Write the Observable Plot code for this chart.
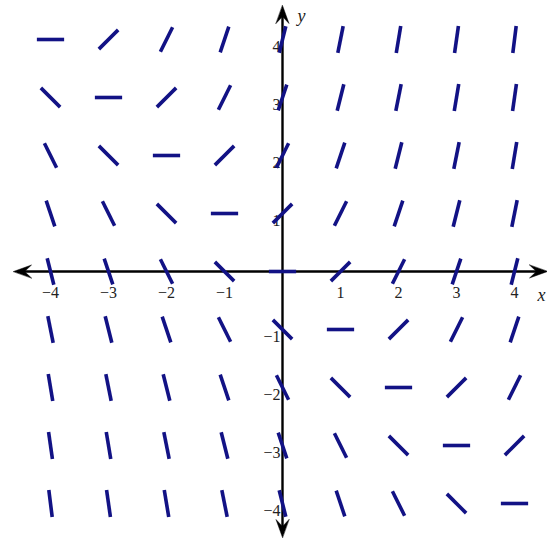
<!DOCTYPE html>
<html>
<head>
<meta charset="utf-8">
<script src="https://cdn.jsdelivr.net/npm/d3@7"></script>
<script src="https://cdn.jsdelivr.net/npm/@observablehq/plot@0.6"></script>
<style>
  html, body { margin: 0; padding: 0; background: #fff; }
  #chart svg { display: block; }
</style>
</head>
<body>
<div id="chart"></div>
<script>
// Grid positions
const xs = [-4, -3, -2, -1, 0, 1, 2, 3, 4];
const ys = [-4, -3, -2, -1, 0, 1, 2, 3, 4];
// Slopes; rows follow ys (from y = -4 up to y = 4), columns follow xs
const slopes = [
  [-8, -7, -6, -5, -4, -3, -2, -1, 0],
  [-7, -6, -5, -4, -3, -2, -1, 0, 1],
  [-6, -5, -4, -3, -2, -1, 0, 1, 2],
  [-5, -4, -3, -2, -1, 0, 1, 2, 3],
  [-4, -3, -2, -1, 0, 1, 2, 3, 4],
  [-3, -2, -1, 0, 1, 2, 3, 4, 5],
  [-2, -1, 0, 1, 2, 3, 4, 5, 6],
  [-1, 0, 1, 2, 3, 4, 5, 6, 7],
  [0, 1, 2, 3, 4, 5, 6, 7, 8]
];
const xTicks = [-4, -3, -2, -1, 1, 2, 3, 4];
const yTicks = [-4, -3, -2, -1, 1, 2, 3, 4];
const tickLabel = v => (v < 0 ? "\u2212" + Math.abs(v) : String(v));

// Build the segment table
const half = 0.235; // half-length of each segment in data units
const segs = [];
ys.forEach((y, i) => xs.forEach((x, j) => {
  const m = slopes[i][j];
  const n = Math.sqrt(1 + m * m);
  const dx = half / n, dy = half * m / n;
  segs.push({x1: x - dx, y1: y - dy, x2: x + dx, y2: y + dy});
}));

const W = 547, H = 540;
const ox = 282, oy = 271, unit = 58;
const xDomain = [-ox / unit, (W - ox) / unit];
const yDomain = [-(H - oy) / unit, oy / unit];
const xMin = (13 - ox) / unit, xMax = (547 - ox) / unit;
const yMax = (oy - 5) / unit, yMin = -(537 - oy) / unit;

const head = {
  draw(ctx, l, r) {
    ctx.moveTo(0, -l);
    ctx.lineTo(6.5, 1);
    ctx.lineTo(0, -l * 0.35);
    ctx.lineTo(-6.5, 1);
    ctx.closePath();
  }
};
const headLen = 17;
const heads = [
  {x: xMax - headLen / unit, y: 0, r: 90},
  {x: xMin + headLen / unit, y: 0, r: -90},
  {x: 0, y: yMax - headLen / unit, r: 0},
  {x: 0, y: yMin + headLen / unit, r: 180}
];

const font = "'Liberation Serif', 'DejaVu Serif', serif";

const chart = Plot.plot({
  width: W,
  height: H,
  margin: 0,
  x: {domain: xDomain, axis: null},
  y: {domain: yDomain, axis: null},
  style: {background: "#fff", fontFamily: font},
  marks: [
    Plot.link([{x1: xMin + 4 / unit, x2: xMax - 4 / unit, y1: 0, y2: 0}], {x1: "x1", x2: "x2", y1: "y1", y2: "y2", stroke: "#000", strokeWidth: 2.4}),
    Plot.link([{x1: 0, x2: 0, y1: yMin + 4 / unit, y2: yMax - 4 / unit}], {x1: "x1", x2: "x2", y1: "y1", y2: "y2", stroke: "#000", strokeWidth: 2.4}),
    Plot.vector(heads, {x: "x", y: "y", rotate: "r", length: headLen, anchor: "start", shape: head, fill: "#000", stroke: "#000", strokeWidth: 0.5}),
    Plot.text(xTicks, {x: d => d, y: 0, text: tickLabel, dy: 21, fontSize: 16, fill: "#222", fontFamily: font}),
    Plot.text(yTicks, {x: 0, y: d => d, text: tickLabel, dx: -2, dy: 7, textAnchor: "end", fontSize: 16, fill: "#222", fontFamily: font}),
    Plot.text(["x"], {x: xMax, y: 0, text: d => d, dx: -6, dy: 24, fontSize: 18, fontStyle: "italic", fill: "#222", fontFamily: font}),
    Plot.text(["y"], {x: 0, y: yMax, text: d => d, dx: 19, dy: 11, fontSize: 18, fontStyle: "italic", fill: "#222", fontFamily: font}),
    Plot.link(segs, {x1: "x1", y1: "y1", x2: "x2", y2: "y2", stroke: "#121285", strokeWidth: 3.6, strokeLinecap: "butt"})
  ]
});
document.getElementById("chart").appendChild(chart);
</script>
</body>
</html>
